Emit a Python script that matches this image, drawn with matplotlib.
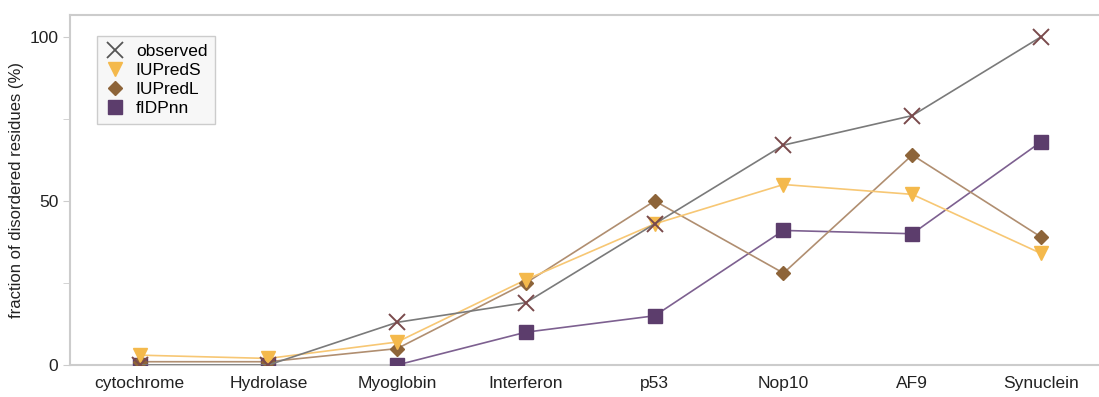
import matplotlib
matplotlib.use('Agg')
import matplotlib.pyplot as plt
from matplotlib.ticker import MultipleLocator

plt.rcParams['font.family'] = ['Liberation Sans', 'DejaVu Sans']

proteins = ['cytochrome', 'Hydrolase', 'Myoglobin', 'Interferon', 'p53', 'Nop10', 'AF9', 'Synuclein']
observed = [0, 0, 13, 19, 43, 67, 76, 100]
iupred_s = [3, 2, 7, 26, 43, 55, 52, 34]
iupred_l = [1, 1, 5, 25, 50, 28, 64, 39]
fidpnn = [0, 0, 0, 10, 15, 41, 40, 68]

x = list(range(len(proteins)))

fig = plt.figure(figsize=(10.99, 3.97), dpi=100)
ax = fig.add_axes([0.0637, 0.0806, 0.9363, 0.882])

# lines lighter than markers, like the original
ax.plot(x, fidpnn, color='#7d6090', lw=1.2, zorder=2)
ax.plot(x, fidpnn, ls='none', marker='s', ms=9.5, color='#5c3d6c', zorder=3)
ax.plot(x, iupred_l, color='#b08e70', lw=1.2, zorder=2)
ax.plot(x, iupred_l, ls='none', marker='D', ms=7.5, color='#8d6439', zorder=3)
ax.plot(x, iupred_s, color='#f7c774', lw=1.2, zorder=2)
ax.plot(x, iupred_s, ls='none', marker='v', ms=10, color='#f4b94c', zorder=3)
ax.plot(x, observed, color='#7a7a7a', lw=1.2, zorder=4)
ax.plot(x, observed, ls='none', marker='x', ms=12, mew=1.4, color='#7a4a4c', zorder=5)

# legend handles
h1, = ax.plot([], [], ls='none', marker='x', ms=12, mew=1.3, color='#555555')
h2, = ax.plot([], [], ls='none', marker='v', ms=10, color='#f4b94c')
h3, = ax.plot([], [], ls='none', marker='D', ms=7.5, color='#8d6439')
h4, = ax.plot([], [], ls='none', marker='s', ms=9.5, color='#5c3d6c')
leg = ax.legend([h1, h2, h3, h4], ['observed', 'IUPredS', 'IUPredL', 'fIDPnn'],
                loc='upper left', bbox_to_anchor=(0.0175, 0.963), fontsize=12.5,
                handlelength=1.2, handletextpad=0.6, labelspacing=0.22,
                borderpad=0.45, fancybox=False, framealpha=1)
leg.get_frame().set_facecolor('#f7f7f7')
leg.get_frame().set_edgecolor('#cccccc')

ax.set_xlim(-0.54, 7.45)
ax.set_ylim(0, 106.7)
ax.set_xticks(x)
ax.set_xticklabels(proteins, fontsize=12.5, color='#222222')
ax.yaxis.set_major_locator(MultipleLocator(50))
ax.yaxis.set_minor_locator(MultipleLocator(25))
ax.tick_params(axis='y', labelsize=12.5, colors='#222222')
ax.tick_params(axis='y', which='both', color='#cccccc', length=5)
ax.tick_params(axis='x', length=0, pad=8)
ax.set_ylabel('fraction of disordered residues (%)', fontsize=12, color='#222222')

for s in ['left', 'top', 'bottom']:
    ax.spines[s].set_color('#cccccc')
    ax.spines[s].set_linewidth(1.5)
ax.spines['right'].set_visible(False)

fig.savefig('out.png', dpi=100)
